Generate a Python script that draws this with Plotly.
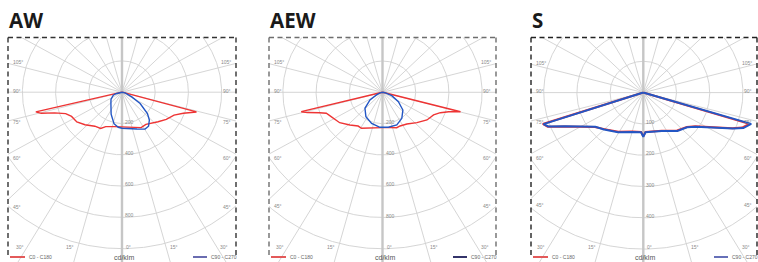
import numpy as np
import plotly.graph_objects as go

# ---------------- data ----------------
TITLES = ["AW", "AEW", "S"]
RING_STEPS = [200, 200, 100]          # cd/klm between rings
RING_COUNT = 5
LABELLED_RINGS = 4
ANGLE_TICKS = [0, 15, 30, 45, 60, 75, 90, 105]
LEGEND_LABELS = ["C0 - C180", "C90 - C270"]
UNIT_LABEL = "cd/klm"

# signed gamma angle (deg, negative = C180 / C270 side) and intensity (cd/klm)
AW_C0_C180_GAMMA = [-90, -85, -80, -76.4, -74.5, -72, -68, -63, -55, -47, -37, -29, -24, -12, 0,
                    10, 20, 27, 35, 42, 49, 57, 65, 70, 74.3, 80, 85, 90]
AW_C0_C180_CD = [0, 3, 8, 534, 505, 427, 366, 341, 332, 305, 272, 265, 241, 225, 221,
                 224, 235, 254, 251, 268, 288, 318, 346, 393, 466, 8, 3, 0]
AW_C90_C270_GAMMA = [-90, -75, -70, -55, -43, -34, -25, -13.5, -5.7, 0, 7.4, 21, 30.5, 36.3,
                     42.7, 48.4, 56.5, 63, 76, 90]
AW_C90_C270_CD = [0, 38, 56, 81, 98, 119, 155, 207, 225, 230, 235, 252, 274, 270,
                  243, 205, 131, 66, 19, 0]

AEW_C0_C180_GAMMA = [-90, -85, -80, -75.8, -74, -71, -68.4, -63, -53, -43.3, -34.3, -28.7, -18.5, 0,
                     12, 20.8, 26.2, 35.9, 46.9, 56.6, 64.8, 69.5, 72.7, 75.2, 80, 85, 90]
AEW_C0_C180_CD = [0, 3, 8, 505, 470, 401, 364, 345, 323, 287, 261, 262, 239, 226,
                  231, 242, 240, 250, 284, 321, 340, 372, 418, 486, 8, 3, 0]
AEW_C90_C270_GAMMA = [-90, -75, -65, -57, -46, -32.7, -18.3, -3.9, 8.9, 22.4, 35, 47.3, 57.9, 68.7, 80, 90]
AEW_C90_C270_CD = [0, 15, 40, 90, 147, 185, 209, 224, 226, 226, 203, 167, 113, 60, 15, 0]

S_C0_C180_GAMMA = [-90, -85, -80, -76, -71.7, -69.3, -65.5, -60, -53, -45, -31, -15, -7, -3, 0,
                   3, 7, 15, 24.5, 40, 50, 55.4, 63, 67, 69.4, 72.6, 76, 80, 85, 90]
S_C0_C180_CD = [0, 2, 4, 5, 319, 308, 261, 216, 183, 165, 146, 129, 126, 126, 140,
                126, 126, 128, 134, 158, 171, 190, 243, 291, 318, 334, 5, 4, 2, 0]
S_C90_C270_GAMMA = [-90, -85, -80, -76, -71.5, -69.3, -65.5, -60, -53, -45, -31, -15, -7, -3, 0,
                    3, 7, 15, 24.5, 40, 50, 55.4, 63, 67, 69.4, 72.9, 76, 80, 85, 90]
S_C90_C270_CD = [0, 2, 4, 5, 317, 306, 259, 214, 181, 167, 148, 130, 127, 127, 141,
                 127, 127, 129, 135, 160, 172, 192, 246, 294, 322, 340, 5, 4, 2, 0]

CURVES = [
    [(AW_C0_C180_GAMMA, AW_C0_C180_CD), (AW_C90_C270_GAMMA, AW_C90_C270_CD)],
    [(AEW_C0_C180_GAMMA, AEW_C0_C180_CD), (AEW_C90_C270_GAMMA, AEW_C90_C270_CD)],
    [(S_C0_C180_GAMMA, S_C0_C180_CD), (S_C90_C270_GAMMA, S_C90_C270_CD)],
]

# ---------------- layout / style ----------------
W, H = 758, 262
TOP = 37.5
PANELS = [dict(left=8, right=236, cx=122.0, cy=92.2),
          dict(left=269, right=496, cx=382.5, cy=92.3),
          dict(left=531, right=757, cx=643.3, cy=92.6)]
PX_X, PX_Y = 33.2, 31.3            # pixels per ring step
BORDER_COLORS = ["#333333", "#6e6e6e", "#222222"]
RED = "#ee3434"
BLUE = "#2356c4"
LEG_BLUE = ["#5a5ca8", "#1d1d5a", "#5560b0"]
CURVE_WIDTH = [1.4, 1.4, 2.0]
GRID = "#d0d0d0"
AXIS_GRAY = "#c6c6c6"
LABEL_GRAY = "#8a8a8a"

fig = go.Figure()
annotations = []
shapes = []

def px2paper(px, py):
    return px / W, 1 - py / H

for i, p in enumerate(PANELS):
    ax = "" if i == 0 else str(i + 1)
    xa, ya = "x" + ax, "y" + ax
    step = RING_STEPS[i]
    ux, uy = step / PX_X, step / PX_Y   # data units per pixel
    xr = [(p["left"] - p["cx"]) * ux, (p["right"] - p["cx"]) * ux]
    yr = [-(H - p["cy"]) * uy, (p["cy"] - TOP) * uy]
    common = dict(showgrid=False, zeroline=False, showticklabels=False, ticks="",
                  showline=False, fixedrange=True)
    fig.layout["xaxis" + ax] = dict(domain=[p["left"] / W, p["right"] / W], range=xr,
                                    anchor=ya, **common)
    fig.layout["yaxis" + ax] = dict(domain=[0, 1 - TOP / H], range=yr, anchor=xa, **common)

    # rings
    t = np.linspace(0, 2 * np.pi, 721)
    rx, ry = [], []
    for k in range(1, RING_COUNT + 1):
        R = k * step
        rx += list(R * np.sin(t)) + [None]
        ry += list(R * np.cos(t)) + [None]
    fig.add_trace(go.Scatter(x=rx, y=ry, xaxis=xa, yaxis=ya, mode="lines",
                             line=dict(color=GRID, width=0.9), hoverinfo="skip", showlegend=False))
    # spokes
    sx, sy = [], []
    Rbig = step * 14
    for a in range(0, 360, 15):
        if a % 180 == 0:
            continue
        ar = np.radians(a)
        sx += [0, Rbig * np.sin(ar), None]
        sy += [0, -Rbig * np.cos(ar), None]
    fig.add_trace(go.Scatter(x=sx, y=sy, xaxis=xa, yaxis=ya, mode="lines",
                             line=dict(color=GRID, width=0.9), hoverinfo="skip", showlegend=False))
    # vertical 0-180 axis
    fig.add_trace(go.Scatter(x=[0, 0], y=[-Rbig, Rbig], xaxis=xa, yaxis=ya, mode="lines",
                             line=dict(color=AXIS_GRAY, width=2.4), hoverinfo="skip", showlegend=False))

    # curves
    cols = [RED, BLUE]
    for j, (g, cd) in enumerate(CURVES[i]):
        g = np.radians(np.asarray(g, float))
        cd = np.asarray(cd, float)
        fig.add_trace(go.Scatter(x=cd * np.sin(g), y=-cd * np.cos(g), xaxis=xa, yaxis=ya,
                                 mode="lines", line=dict(color=cols[j], width=CURVE_WIDTH[i]),
                                 name=LEGEND_LABELS[j], showlegend=False))

    # ring labels
    for k in range(1, LABELLED_RINGS + 1):
        annotations.append(dict(x=0, y=-k * step, xref=xa, yref=ya, text=str(k * step),
                                showarrow=False, xanchor="left", yanchor="middle",
                                xshift=1, yshift=2, font=dict(size=5, color=LABEL_GRAY)))

    # angle labels
    half_w = p["cx"] - p["left"]
    ybot = 246.5
    for a in ANGLE_TICKS:
        for side in ([1] if a == 0 else [-1, 1]):
            ar = np.radians(a)
            dx = side * np.sin(ar) * PX_X
            dy = np.cos(ar) * PX_Y
            t_side = (half_w / abs(dx)) if dx != 0 else 1e9
            t_bot = ((ybot - p["cy"]) / dy) if dy > 0 else 1e9
            txt = f"{a}°"
            if a == 0:
                X, Y, anc = p["cx"] + 2, ybot, "left"
            elif t_bot < t_side:
                X = p["cx"] + dx * t_bot + (-2 if side < 0 else 2)
                Y, anc = ybot, ("right" if side < 0 else "left")
            else:
                Y = p["cy"] + dy * t_side + max(-1.5, -2 + (90 - a) * 0.2)
                if side < 0:
                    X, anc = p["left"] + 3, "left"
                else:
                    X, anc = p["right"] - 3, "right"
            xp, yp = px2paper(X, Y)
            annotations.append(dict(x=xp, y=yp, xref="paper", yref="paper", text=txt,
                                    showarrow=False, xanchor=anc, yanchor="middle",
                                    font=dict(size=5, color=LABEL_GRAY)))

    # dashed border (top, left, right)
    b0 = px2paper(p["left"], TOP)
    b1 = px2paper(p["right"], 258)
    for (x0, y0, x1, y1) in [(b0[0], b0[1], b1[0], b0[1]),
                             (b0[0], b0[1], b0[0], b1[1]),
                             (b1[0], b0[1], b1[0], b1[1])]:
        shapes.append(dict(type="line", xref="paper", yref="paper", x0=x0, y0=y0, x1=x1, y1=y1,
                           line=dict(color=BORDER_COLORS[i], width=1.4, dash="5px,3.5px")))

    # title
    tx, ty = px2paper(p["left"] - 1, 20.5)
    annotations.append(dict(x=tx, y=ty, xref="paper", yref="paper", text=f"<b>{TITLES[i]}</b>",
                            showarrow=False, xanchor="left", yanchor="middle",
                            font=dict(size=20.5, color="#1a1a1a", family="Open Sans")))

    # legend-like footer
    ly = 257.0
    l0, l1 = px2paper(p["left"] + 2, ly), px2paper(p["left"] + 17, ly)
    shapes.append(dict(type="line", xref="paper", yref="paper", x0=l0[0], y0=l0[1], x1=l1[0], y1=l1[1],
                       line=dict(color="#e04848", width=1.8)))
    r0, r1 = px2paper(p["right"] - 43, ly), px2paper(p["right"] - 29, ly)
    shapes.append(dict(type="line", xref="paper", yref="paper", x0=r0[0], y0=r0[1], x1=r1[0], y1=r1[1],
                       line=dict(color=LEG_BLUE[i], width=1.8)))
    tl = px2paper(p["left"] + 18.5, ly)
    annotations.append(dict(x=tl[0], y=tl[1], xref="paper", yref="paper", text=LEGEND_LABELS[0],
                            showarrow=False, xanchor="left", yanchor="middle",
                            font=dict(size=5, color="#666666")))
    tr = px2paper(p["right"] - 27.5, ly)
    annotations.append(dict(x=tr[0], y=tr[1], xref="paper", yref="paper", text=LEGEND_LABELS[1],
                            showarrow=False, xanchor="left", yanchor="middle",
                            font=dict(size=5, color="#666666")))
    tc = px2paper(p["cx"] + 2, ly)
    annotations.append(dict(x=tc[0], y=tc[1], xref="paper", yref="paper", text=UNIT_LABEL,
                            showarrow=False, xanchor="center", yanchor="middle",
                            font=dict(size=7, color="#555555")))

fig.update_layout(width=W, height=H, margin=dict(l=0, r=0, t=0, b=0),
                  paper_bgcolor="white", plot_bgcolor="white",
                  font=dict(family="Liberation Sans, Arial, sans-serif"),
                  annotations=annotations, shapes=shapes, showlegend=False)
fig.write_html("out.html", config={"displayModeBar": False, "staticPlot": True},
               post_script="document.body.style.margin='0';document.body.style.overflow='hidden';")
